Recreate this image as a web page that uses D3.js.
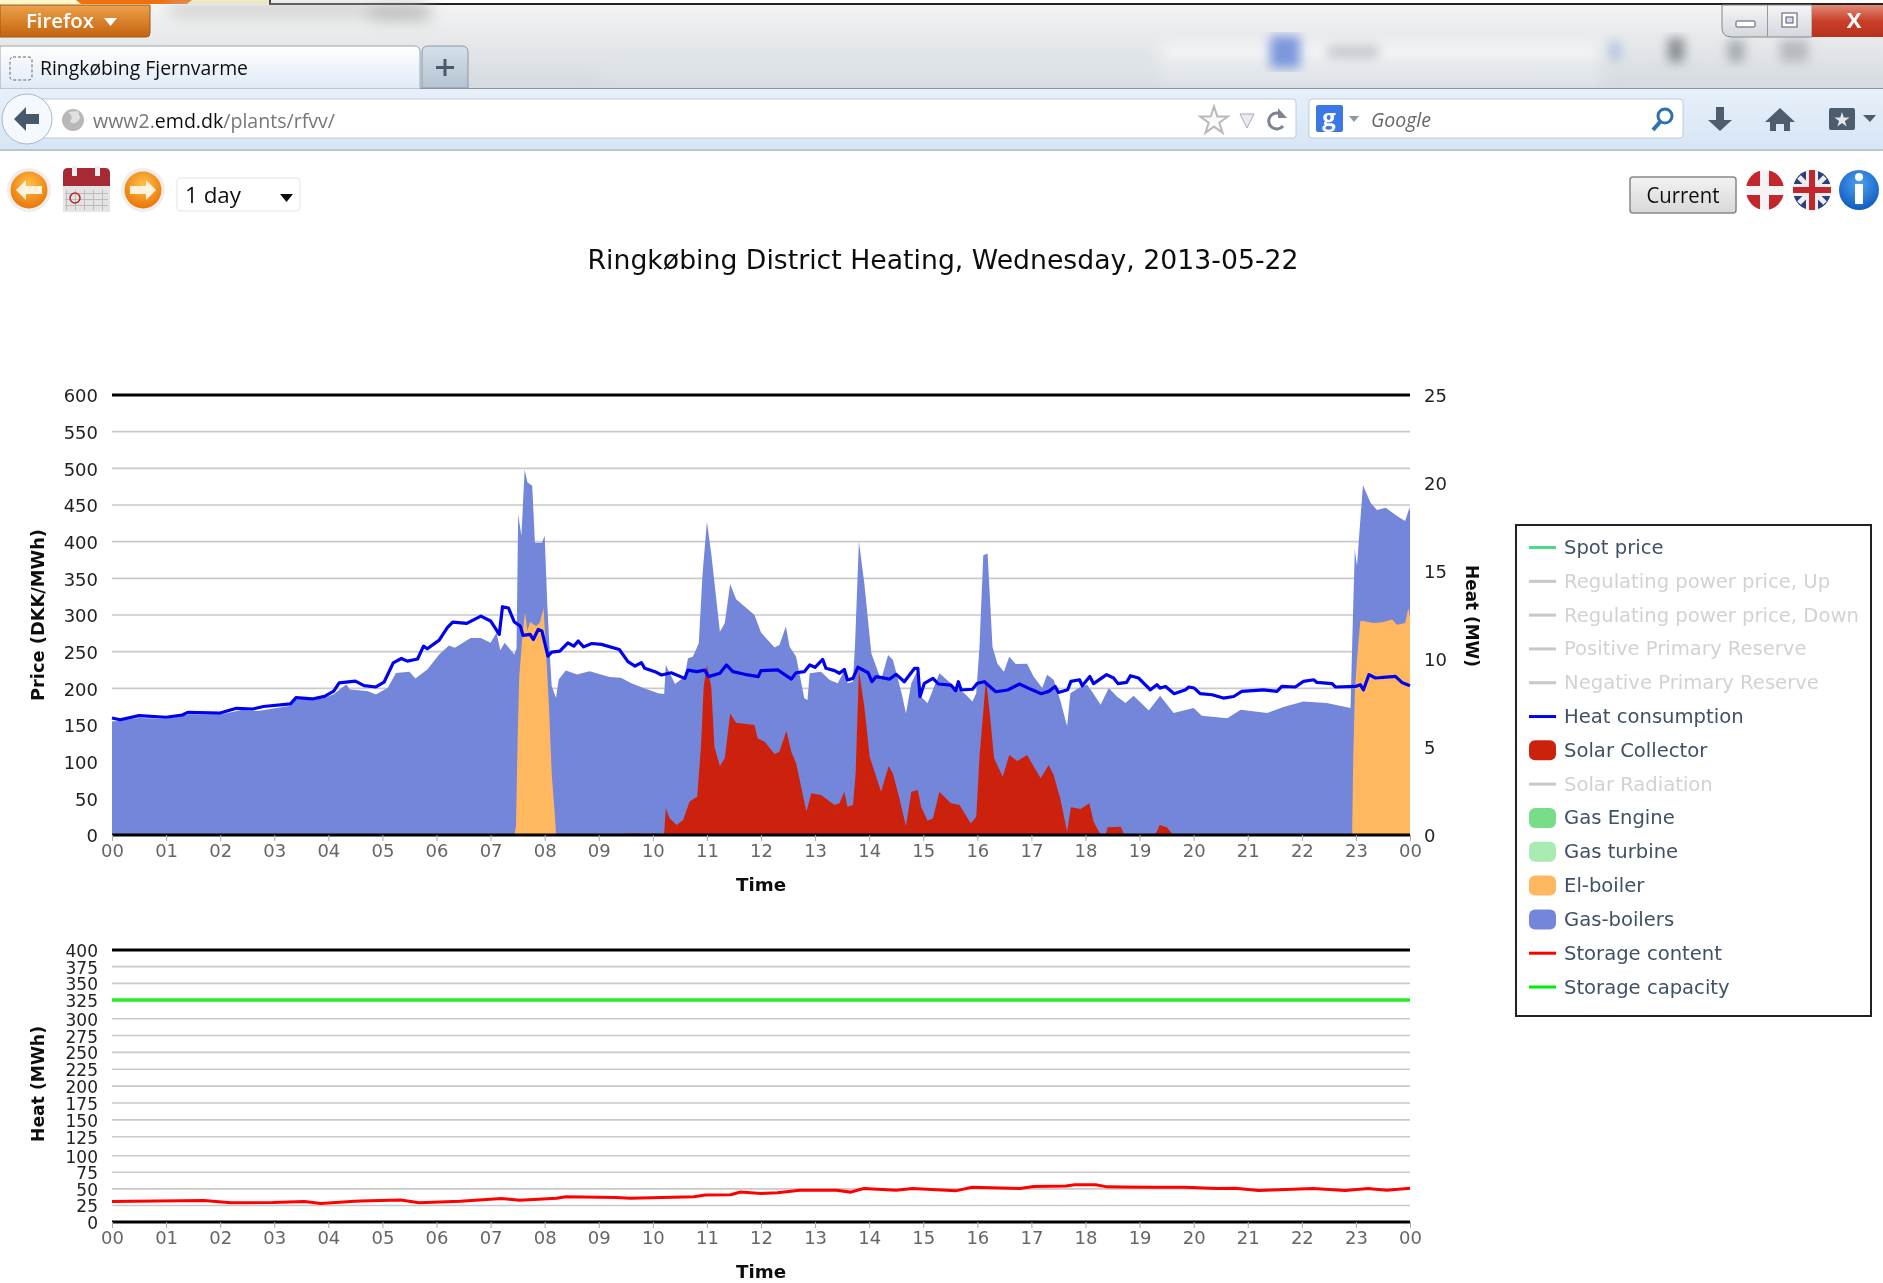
<!DOCTYPE html>
<html>
<head>
<meta charset="utf-8">
<title>Ringkøbing Fjernvarme</title>
<script src="https://cdn.jsdelivr.net/npm/d3@7"></script>
<style>
html,body{margin:0;padding:0;background:#fff;overflow:hidden}
svg{display:block}
text{font-family:"Open Sans","DejaVu Sans",sans-serif}
#chart text{font-family:"DejaVu Sans",sans-serif}
</style>
</head>
<body>
<svg id="page" width="1883" height="1283" viewBox="0 0 1883 1283"></svg>
<script>
// ---------- data: [hour of day, value] ----------
const hourLabels = ["00","01","02","03","04","05","06","07","08","09","10","11","12","13","14","15","16","17","18","19","20","21","22","23","00"];
const priceTicks = [0,50,100,150,200,250,300,350,400,450,500,550,600];
const heatMwTicks = [0,5,10,15,20,25];
const storageTicks = [0,25,50,75,100,125,150,175,200,225,250,275,300,325,350,375,400];

const gasBoilersTop = [[0,6.45],[0.5,6.65],[1,6.6],[1.4,6.85],[2,6.85],[2.4,7.1],[2.7,7.05],[3.3,7.35],[3.4,7.7],[3.9,7.75],[4.1,8.0],[4.33,8.55],[4.4,8.26],[4.73,8.17],[4.88,7.98],[5.1,8.36],[5.25,9.21],[5.5,9.27],[5.61,8.89],[5.83,9.4],[6.05,10.26],[6.23,10.77],[6.34,10.64],[6.63,11.2],[6.82,11.2],[7.0,10.92],[7.11,11.49],[7.18,10.5],[7.26,10.92],[7.44,10.26],[7.48,10.6],[7.51,18.2],[7.57,17],[7.63,20.76],[7.68,20.04],[7.77,19.85],[7.82,16.6],[7.95,16.6],[8,17],[8.05,13],[8.1,10],[8.13,8.45],[8.21,7.79],[8.26,8.83],[8.39,9.34],[8.6,9.12],[8.83,9.31],[9.2,8.98],[9.41,8.93],[9.6,8.62],[9.85,8.33],[10.1,8.05],[10.21,8.01],[10.24,9.66],[10.41,8.58],[10.59,9.0],[10.65,10.04],[10.74,10.13],[10.85,10.89],[10.92,14.87],[11.0,17.8],[11.08,16.0],[11.24,11.55],[11.33,12.03],[11.43,14.26],[11.54,13.39],[11.88,12.5],[12.0,11.5],[12.25,10.66],[12.34,10.8],[12.46,11.84],[12.53,10.7],[12.65,10.13],[12.8,7.77],[12.86,7.67],[12.9,9.19],[13.11,9.28],[13.27,8.8],[13.42,8.62],[13.56,9.47],[13.6,8.62],[13.7,8.71],[13.74,10.89],[13.81,16.67],[13.91,14.3],[14.04,10.32],[14.22,8.8],[14.35,10.23],[14.44,9.94],[14.6,8.05],[14.68,6.91],[14.78,8.62],[14.9,9.38],[14.96,7.86],[15.08,7.48],[15.3,9.19],[15.58,8.43],[15.76,8.05],[15.91,7.58],[15.98,8.05],[16.04,10.7],[16.11,15.9],[16.19,16],[16.28,10.7],[16.37,9.75],[16.49,9.28],[16.59,10.13],[16.71,9.72],[16.92,9.73],[17.04,9.01],[17.2,8.35],[17.29,9.1],[17.41,8.82],[17.54,7.59],[17.66,6.17],[17.72,8.06],[17.87,8.35],[18.03,8.54],[18.12,8.16],[18.28,7.4],[18.43,8.35],[18.58,7.87],[18.74,7.5],[18.89,7.91],[19.17,7.08],[19.38,7.91],[19.63,6.93],[20.0,7.21],[20.15,6.77],[20.62,6.64],[20.87,7.12],[21.36,6.93],[21.66,7.27],[22.03,7.59],[22.46,7.5],[22.9,7.21],[22.94,11.86],[22.98,16.22],[23.02,15.28],[23.06,17],[23.13,19.87],[23.27,18.88],[23.39,18.46],[23.55,18.6],[23.76,18.12],[23.91,17.84],[23.99,18.6],[24,18.4]];

const elBoilerTop = [[7.44,0],[7.47,0.5],[7.5,5.5],[7.53,9],[7.58,11],[7.62,12.2],[7.64,12.63],[7.68,11.6],[7.73,12.1],[7.84,11.87],[7.91,12.06],[7.98,12.9],[8.02,10.73],[8.08,7.3],[8.13,3.5],[8.19,1.05],[8.21,0]];
const elBoilerLateTop = [[22.93,0],[22.95,4.3],[22.98,8.06],[23.02,10],[23.08,12.14],[23.11,12.18],[23.33,12.05],[23.51,12.1],[23.67,12.24],[23.76,11.95],[23.91,12.05],[23.97,12.9],[24,12.4],[24,0]];

const solarCollector = [[9.4,0],[9.5,0.08],[9.7,0.1],[9.85,0.05],[10.0,0.08],[10.2,0.05],[10.21,0.1],[10.24,1.5],[10.31,0.95],[10.44,0.57],[10.56,0.85],[10.68,1.9],[10.82,2.18],[10.89,5],[10.94,8.43],[11.0,9.66],[11.08,8.43],[11.14,5],[11.24,3.92],[11.33,4.36],[11.43,6.91],[11.54,6.38],[11.88,6.25],[11.94,5.49],[12.07,5.3],[12.25,4.6],[12.34,4.73],[12.47,5.93],[12.56,4.73],[12.65,4.07],[12.84,1.33],[12.93,2.37],[13.11,2.27],[13.36,1.7],[13.45,1.8],[13.54,2.46],[13.6,1.61],[13.7,1.7],[13.75,3.5],[13.81,9.38],[13.91,7.3],[14.01,4.45],[14.22,2.46],[14.36,3.92],[14.44,3.5],[14.56,2.08],[14.68,0.51],[14.78,2.46],[14.9,2.56],[14.96,1.61],[15.08,0.81],[15.18,0.95],[15.3,2.46],[15.51,1.8],[15.67,1.7],[15.88,0.66],[15.98,1.04],[16.04,4.45],[16.16,8.86],[16.23,6.91],[16.31,4.36],[16.47,3.31],[16.59,4.55],[16.74,4.2],[16.92,4.55],[17.17,3.23],[17.32,3.98],[17.41,3.42],[17.54,1.99],[17.66,0.19],[17.73,1.57],[17.91,1.48],[18.07,1.8],[18.15,0.76],[18.28,0],[18.37,0],[18.41,0.44],[18.65,0.47],[18.72,0],[19.29,0],[19.37,0.57],[19.51,0.42],[19.62,0]];

const heatConsumption = [[0,6.65],[0.15,6.55],[0.5,6.78],[1.0,6.69],[1.3,6.82],[1.4,6.97],[2,6.93],[2.3,7.2],[2.6,7.16],[2.8,7.3],[3.3,7.45],[3.4,7.8],[3.7,7.73],[3.93,7.88],[4.1,8.17],[4.2,8.64],[4.5,8.74],[4.66,8.49],[4.88,8.41],[5.03,8.68],[5.2,9.78],[5.35,10.03],[5.46,9.88],[5.65,10.0],[5.76,10.73],[5.83,10.58],[6.05,11.07],[6.2,11.78],[6.3,12.1],[6.56,12.02],[6.82,12.44],[7.0,12.16],[7.16,11.4],[7.22,12.97],[7.33,12.9],[7.44,12.1],[7.55,11.87],[7.6,11.34],[7.73,11.4],[7.79,11.11],[7.88,11.68],[7.95,11.59],[8.06,10.16],[8.13,10.39],[8.28,10.45],[8.43,10.92],[8.54,10.73],[8.62,11.02],[8.72,10.69],[8.87,10.88],[9.05,10.83],[9.38,10.54],[9.54,9.85],[9.67,9.6],[9.79,9.79],[9.85,9.47],[10.04,9.28],[10.16,9.09],[10.34,9.22],[10.59,8.9],[10.65,9.37],[10.81,9.28],[10.96,9.37],[11.03,9.0],[11.24,9.19],[11.36,9.66],[11.48,9.28],[11.7,9.13],[11.95,9.0],[12.0,9.34],[12.31,9.38],[12.56,8.86],[12.65,9.22],[12.8,9.28],[12.9,9.66],[13.0,9.53],[13.14,9.98],[13.2,9.47],[13.36,9.34],[13.45,9.19],[13.54,9.41],[13.6,8.81],[13.7,8.9],[13.79,9.53],[13.98,9.22],[14.05,8.71],[14.13,9.0],[14.38,8.86],[14.5,9.13],[14.65,8.71],[14.84,9.47],[14.9,9.47],[14.94,7.86],[15.02,8.62],[15.18,8.9],[15.28,8.58],[15.51,8.52],[15.6,8.2],[15.65,8.71],[15.7,8.24],[15.91,8.28],[16.0,8.62],[16.13,8.71],[16.34,8.14],[16.56,8.24],[16.78,8.58],[16.98,8.29],[17.18,8.03],[17.32,8.16],[17.44,8.44],[17.5,8.1],[17.67,8.25],[17.73,8.73],[17.89,8.82],[17.94,8.48],[18.08,9.01],[18.15,8.6],[18.39,9.11],[18.52,8.92],[18.6,8.6],[18.76,8.67],[18.83,9.05],[18.98,8.92],[19.2,8.25],[19.32,8.54],[19.38,8.35],[19.48,8.44],[19.64,8.03],[19.85,8.25],[19.91,8.41],[20.01,8.35],[20.12,8.03],[20.34,7.97],[20.55,7.78],[20.74,7.87],[20.89,8.16],[21.29,8.25],[21.54,8.16],[21.63,8.44],[21.88,8.41],[22.03,8.73],[22.22,8.82],[22.28,8.67],[22.56,8.6],[22.62,8.41],[22.99,8.44],[23.08,8.54],[23.14,8.25],[23.24,9.11],[23.36,8.92],[23.73,9.01],[23.85,8.67],[24,8.48]];

const storageContent = [[0,30.9],[1.7,32.4],[2.2,28.9],[2.97,29.4],[3.56,30.9],[3.86,28],[4.49,31.4],[5.34,33.3],[5.68,28.9],[6.44,31.4],[7.2,35.3],[7.54,32.8],[8.22,35.8],[8.39,38.2],[9.32,36.8],[9.58,35.8],[10.76,38.2],[10.97,40.7],[11.44,41.2],[11.62,45.1],[12,43.1],[12.3,44.1],[12.72,48],[13.4,48],[13.65,45.1],[13.9,50.5],[14.5,48],[14.8,50.5],[15.6,47],[15.9,52.5],[16.79,50.5],[17.04,53.4],[17.64,54.4],[17.8,56],[18.19,56],[18.4,53],[19.25,52.5],[19.84,52.5],[20.43,50.5],[20.77,51],[21.2,47.5],[22.21,50.5],[22.8,47.5],[23.23,50.5],[23.57,48],[24,51]];
const storageCapacity = [[0,325],[24,325]];

const legendNames = ["Spot price","Regulating power price, Up","Regulating power price, Down","Positive Primary Reserve","Negative Primary Reserve","Heat consumption","Solar Collector","Solar Radiation","Gas Engine","Gas turbine","El-boiler","Gas-boilers","Storage content","Storage capacity"];
const legendKinds = ["line","line","line","line","line","line","area","line","area","area","area","area","line","line"];
const legendActive = [true,false,false,false,false,true,true,false,true,true,true,true,true,true];
const legendColors = ["#4fd885","#c8c8c8","#c8c8c8","#c8c8c8","#c8c8c8","#0000ee","#cc2211","#c8c8c8","#77dd88","#a8ecb4","#ffb860","#7386d9","#ff0000","#00ee00"];

// ---------- layout and scales ----------
const svg = d3.select("#page");
const X0 = 112, X1 = 1410;
const x = d3.scaleLinear().domain([0,24]).range([X0,X1]);
const yPrice = d3.scaleLinear().domain([0,600]).range([835,395]);
const yHeat = d3.scaleLinear().domain([0,25]).range([835,395]);
const yStore = d3.scaleLinear().domain([0,100,125,300,325,400]).range([1222,1155.7,1136.7,1018.7,1000,950]);

const C = {grid:"#c9c9c9", tickDark:"#222", tickGrey:"#666", gas:"#7386d9", el:"#ffb860", solar:"#cc2211", heat:"#0000ee", store:"#ff0000", cap:"#22ee22"};

// ---------- browser chrome ----------
const defs = svg.append("defs");
function grad(id, stops, horizontal){
  const g = defs.append("linearGradient").attr("id",id).attr("x1",0).attr("y1",0).attr("x2",horizontal?1:0).attr("y2",horizontal?0:1);
  stops.forEach(s=>g.append("stop").attr("offset",s[0]).attr("stop-color",s[1]));
}
grad("gTop",[[0,"#f3f3f3"],[0.45,"#e6e8ea"],[1,"#d4dae0"]]);
grad("gFox",[[0,"#eda24a"],[1,"#c4620f"]]);
grad("gTab",[[0,"#ffffff"],[1,"#dfeaf7"]]);
grad("gPlus",[[0,"#d5e0ea"],[1,"#b5c3d2"]]);
grad("gBar",[[0,"#e7f0fa"],[1,"#d6e5f5"]]);
grad("gClose",[[0,"#e08a75"],[0.5,"#c9402b"],[1,"#b9301c"]]);
grad("gWin",[[0,"#f4f5f6"],[1,"#d3d8dd"]]);
grad("gBtn",[[0,"#f2f2f2"],[1,"#d8d8d8"]]);
const orangeG = defs.append("radialGradient").attr("id","gOrange").attr("cx",0.5).attr("cy",0.35).attr("r",0.7);
orangeG.append("stop").attr("offset",0).attr("stop-color","#ffc04a");
orangeG.append("stop").attr("offset",1).attr("stop-color","#e96f00");
const blueG = defs.append("radialGradient").attr("id","gBlue").attr("cx",0.5).attr("cy",0.35).attr("r",0.7);
blueG.append("stop").attr("offset",0).attr("stop-color","#4da3ef");
blueG.append("stop").attr("offset",1).attr("stop-color","#0b56bd");
defs.append("filter").attr("id","blur8").append("feGaussianBlur").attr("stdDeviation",8);
defs.append("filter").attr("id","blur3").append("feGaussianBlur").attr("stdDeviation",5.5);
defs.append("filter").attr("id","soft").append("feGaussianBlur").attr("stdDeviation",0.45);

const chrome = svg.append("g").attr("filter","url(#soft)");
function rect(p,a,b,c,d,fill,extra){const r=p.append("rect").attr("x",a).attr("y",b).attr("width",c).attr("height",d).attr("fill",fill);if(extra)Object.entries(extra).forEach(([k,v])=>r.attr(k,v));return r;}
function txt(p,a,b,s,size,fill,extra){const t=p.append("text").attr("x",a).attr("y",b).attr("font-size",size).attr("fill",fill).text(s);if(extra)Object.entries(extra).forEach(([k,v])=>t.attr(k,v));return t;}

// top strip
rect(chrome,0,0,1883,5,"#fff");
rect(chrome,0,0,270,4,"#fff7c8");
chrome.append("path").attr("d","M76 0H192L187 4H81Z").attr("fill","#f07010");
rect(chrome,269,0,2,5,"#111");
rect(chrome,270,3,1613,2,"#222");
rect(chrome,0,5,1883,84,"url(#gTop)");
// blurred window behind the glass
const blurred = chrome.append("g").attr("filter","url(#blur8)");
rect(blurred,1160,44,440,36,"#f6f7f8");
rect(blurred,170,5,250,10,"#c4c4c4");
rect(blurred,370,8,60,10,"#a5a5a5");
rect(blurred,600,60,1000,16,"#dfe4e8");
const blurred2 = chrome.append("g").attr("filter","url(#blur3)");
rect(blurred2,1270,36,30,32,"#7c97dc");
rect(blurred2,1328,46,50,12,"#c2c6ca");
rect(blurred2,1610,42,10,18,"#a9bedb");
rect(blurred2,1668,38,16,24,"#888e94");
rect(blurred2,1728,40,16,22,"#a5aaaf");
rect(blurred2,1780,40,28,22,"#b5b9bd");
// Firefox button
chrome.append("path").attr("d","M0 5H150V33Q150 37 146 37H0Z").attr("fill","url(#gFox)").attr("stroke","#9a5a1c");
txt(chrome,26,28,"Firefox",19,"#fff",{"font-weight":"600",textLength:68,lengthAdjust:"spacingAndGlyphs"});
chrome.append("path").attr("d","M104 18H117L110.500 26Z").attr("fill","#fff");
// window buttons
chrome.append("path").attr("d","M1722 5V28Q1722 37 1732 37H1812V5Z").attr("fill","url(#gWin)").attr("stroke","#888");
rect(chrome,1812,5,71,32,"url(#gClose)");
rect(chrome,1767,5,1,32,"#999");
rect(chrome,1736,21,19,6,"#fff",{stroke:"#556",rx:1});
rect(chrome,1782,13,15,14,"#fff",{stroke:"#556"});
rect(chrome,1786,17,7,6,"#dde",{stroke:"#556"});
txt(chrome,1854,28,"X",22,"#fff",{"text-anchor":"middle","font-weight":"700"});
// tab strip
rect(chrome,0,88,1883,1,"#8c9299");
chrome.append("path").attr("d","M0 46H414Q420 46 420 52V89H0Z").attr("fill","url(#gTab)").attr("stroke","#9aa4ae");
chrome.append("path").attr("d","M422 52Q422 46 428 46H462Q468 46 468 52V88H422Z").attr("fill","url(#gPlus)").attr("stroke","#8b97a4");
rect(chrome,436,66,18,3,"#4a5a6b");
rect(chrome,443.500,59,3,17,"#4a5a6b");
rect(chrome,10,57,22,23,"none",{stroke:"#666","stroke-dasharray":"3 2",rx:3});
txt(chrome,40,75,"Ringkøbing Fjernvarme",20,"#111",{textLength:208,lengthAdjust:"spacingAndGlyphs"});
// navigation bar
rect(chrome,0,89,1883,61,"url(#gBar)");
rect(chrome,0,149,1883,2,"#b9c6d4");
rect(chrome,40,99,1256,39,"#fff",{stroke:"#bccbdb",rx:3});
rect(chrome,1309,99,374,39,"#fff",{stroke:"#bccbdb",rx:3});
chrome.append("circle").attr("cx",27).attr("cy",119).attr("r",25).attr("fill","#f5f9fd").attr("stroke","#a8b8c8");
chrome.append("path").attr("d","M14 119L26 107V114H39V124H26V131Z").attr("fill","#46586b");
chrome.append("circle").attr("cx",73).attr("cy",120).attr("r",11).attr("fill","#b8b8b8");
chrome.append("path").attr("d","M68 112Q74 116 70 122Q76 126 80 118L78 111Z").attr("fill","#e0e0e0");
const url = txt(chrome,93,128,"",20,"#777",{textLength:242,lengthAdjust:"spacingAndGlyphs"});
url.append("tspan").text("www2.");
url.append("tspan").attr("fill","#111").text("emd.dk");
url.append("tspan").text("/plants/rfvv/");
chrome.append("path").attr("d",d3.symbol().type(d3.symbolStar).size(240)()).attr("transform","translate(1214,121)").attr("fill","#fafafa").attr("stroke","#b9b9b9").attr("stroke-width",2);
chrome.append("path").attr("d","M1240 114H1254L1247 128Z").attr("fill","#e9edf0").attr("stroke","#aab");
chrome.append("path").attr("d","M1282 115A8 8 0 1 0 1283 126").attr("fill","none").attr("stroke","#7a8590").attr("stroke-width",3);
chrome.append("path").attr("d","M1278 108V118H1287Z").attr("fill","#7a8590");
rect(chrome,1316,105,27,27,"#3a78e6",{rx:2});
txt(chrome,1329,126,"g",24,"#fff",{"text-anchor":"middle","font-weight":"700"});
chrome.append("path").attr("d","M1349 116H1359L1354 122Z").attr("fill","#8899aa");
txt(chrome,1371,127,"Google",20,"#666",{"font-style":"italic",textLength:60,lengthAdjust:"spacingAndGlyphs"});
chrome.append("circle").attr("cx",1665).attr("cy",116).attr("r",7).attr("fill","none").attr("stroke","#2f6fb5").attr("stroke-width",3);
chrome.append("path").attr("d","M1660 122L1653 130").attr("stroke","#2f6fb5").attr("stroke-width",4);
chrome.append("path").attr("d","M1716 107H1724V120H1732L1720 131L1708 120H1716Z").attr("fill","#4e5d6c");
chrome.append("path").attr("d","M1780 108L1795 122H1790V131H1784V124H1776V131H1770V122H1765Z").attr("fill","#4e5d6c");
rect(chrome,1829,108,26,22,"#4e5d6c",{rx:2});
chrome.append("path").attr("d",d3.symbol().type(d3.symbolStar).size(70)()).attr("transform","translate(1842,120)").attr("fill","#e5e9ee");
chrome.append("path").attr("d","M1863 115H1876L1870 122Z").attr("fill","#4e5d6c");

// page controls
function roundArrow(cx,dir){
  chrome.append("circle").attr("cx",cx).attr("cy",190).attr("r",22).attr("fill","#eee");
  chrome.append("circle").attr("cx",cx).attr("cy",190).attr("r",18.5).attr("fill","url(#gOrange)");
  chrome.append("path").attr("transform",`translate(${cx},190) scale(${dir},1)`).attr("d","M-13 0L-3 -10V-4H13V4H-3V10Z").attr("fill","#fff3dc");
}
roundArrow(29,1); roundArrow(143,-1);
rect(chrome,63,176,47,36,"#e4e4e4");
chrome.append("path").attr("d","M63 173Q63 168 68 168H105Q110 168 110 173V186H63Z").attr("fill","#a52a35");
rect(chrome,72,166,5,10,"#eee"); rect(chrome,95,166,5,10,"#eee");
d3.range(5).forEach(i=>rect(chrome,66+i*9,190,1,20,"#bbb"));
d3.range(3).forEach(i=>rect(chrome,65,193+i*6,43,1,"#bbb"));
chrome.append("circle").attr("cx",75).attr("cy",198).attr("r",5).attr("fill","none").attr("stroke","#b22").attr("stroke-width",1.5);
rect(chrome,177,178,123,33,"#fff",{stroke:"#dfe3e8",rx:3});
txt(chrome,185,203,"1 day",21,"#111",{textLength:56,lengthAdjust:"spacingAndGlyphs"});
chrome.append("path").attr("d","M280 194H293L286.500 202Z").attr("fill","#111");
rect(chrome,1630,177,106,36,"url(#gBtn)",{stroke:"#888","stroke-width":1.5,rx:3});
txt(chrome,1683,203,"Current",21,"#111",{"text-anchor":"middle",textLength:73,lengthAdjust:"spacingAndGlyphs"});
// flags and info
chrome.append("ellipse").attr("cx",1765).attr("cy",190).attr("rx",19).attr("ry",20).attr("fill","#c4262e");
rect(chrome,1760,170,9,40,"#f4f4f4"); rect(chrome,1746,186,38,9,"#f4f4f4");
chrome.append("ellipse").attr("cx",1812).attr("cy",190).attr("rx",19).attr("ry",20).attr("fill","#2a3f7e");
chrome.append("path").attr("d","M1799 177L1825 203M1825 177L1799 203").attr("stroke","#eee").attr("stroke-width",5);
rect(chrome,1806,170,12,40,"#eee"); rect(chrome,1793,184,38,12,"#eee");
rect(chrome,1809,170,6,40,"#c4262e"); rect(chrome,1793,187,38,6,"#c4262e");
chrome.append("circle").attr("cx",1859).attr("cy",190).attr("r",20).attr("fill","url(#gBlue)");
chrome.append("circle").attr("cx",1859).attr("cy",177).attr("r",4).attr("fill","#fff");
rect(chrome,1855,184,8,20,"#fff");

// ---------- chart ----------
const chart = svg.append("g").attr("id","chart").attr("filter","url(#soft)");
txt(chart,943,269,"Ringkøbing District Heating, Wednesday, 2013-05-22",26,"#111",{"text-anchor":"middle",textLength:711,lengthAdjust:"spacingAndGlyphs"});

const area = yScale => d3.area().x(d=>x(d[0])).y0(yScale(0)).y1(d=>yScale(d[1]));
const line = yScale => d3.line().x(d=>x(d[0])).y(d=>yScale(d[1]));

function drawFrame(yScale,ticks,isMajor){
  chart.append("g").selectAll("line").data(ticks.filter(t=>!isMajor(t))).join("line")
    .attr("x1",X0).attr("x2",X1).attr("y1",d=>yScale(d)).attr("y2",d=>yScale(d))
    .attr("stroke",C.grid).attr("stroke-width",1.6);
}
function drawHourAxis(yPos){
  const ax = d3.axisBottom(x).tickValues(d3.range(25)).tickFormat(i=>hourLabels[i]).tickSize(6).tickSizeOuter(0);
  const g = chart.append("g").attr("transform",`translate(0,${yPos})`).call(ax);
  g.select(".domain").remove();
  g.selectAll(".tick line").attr("stroke","#aaa");
  g.selectAll(".tick text").attr("font-size",18).attr("fill",C.tickGrey).attr("dy",0).attr("y",22).attr("font-family",'"DejaVu Sans",sans-serif');
}
function drawValueAxis(scale,ticks,xPos,orient,size,fill){
  const ax = orient(scale).tickValues(ticks).tickSize(0).tickPadding(0);
  const g = chart.append("g").attr("transform",`translate(${xPos},1)`).call(ax);
  g.select(".domain").remove();
  g.selectAll(".tick text").attr("font-size",size).attr("fill",fill).attr("font-family",'"DejaVu Sans",sans-serif');
}
function heavy(yPos){ chart.append("line").attr("x1",X0).attr("x2",X1).attr("y1",yPos).attr("y2",yPos).attr("stroke","#000").attr("stroke-width",3.2); }

// upper panel
drawFrame(yPrice,priceTicks,t=>t===0||t===600);
chart.append("path").datum(gasBoilersTop).attr("d",area(yHeat)).attr("fill",C.gas);
chart.append("path").datum(elBoilerTop).attr("d",area(yHeat)).attr("fill",C.el);
chart.append("path").datum(elBoilerLateTop).attr("d",area(yHeat)).attr("fill",C.el);
chart.append("path").datum(solarCollector).attr("d",area(yHeat)).attr("fill",C.solar);
chart.append("path").datum(heatConsumption).attr("d",line(yHeat)).attr("fill","none").attr("stroke",C.heat).attr("stroke-width",3.2).attr("stroke-linejoin","round");
heavy(yPrice(600)); heavy(yPrice(0));
drawHourAxis(835);
drawValueAxis(yPrice,priceTicks,98,d3.axisLeft,18,C.tickDark);
drawValueAxis(yHeat,heatMwTicks,1424,d3.axisRight,18,C.tickDark);
txt(chart,0,0,"Price (DKK/MWh)",17,"#111",{"font-weight":"700","text-anchor":"middle",transform:"translate(44,615) rotate(-90)",textLength:172,lengthAdjust:"spacingAndGlyphs"});
txt(chart,0,0,"Heat (MW)",17,"#111",{"font-weight":"700","text-anchor":"middle",transform:"translate(1466,616) rotate(90)",textLength:102,lengthAdjust:"spacingAndGlyphs"});
txt(chart,761,891,"Time",18,"#111",{"font-weight":"700","text-anchor":"middle",textLength:50,lengthAdjust:"spacingAndGlyphs"});

// lower panel
drawFrame(yStore,storageTicks,t=>t===0||t===400||t===325);
chart.append("path").datum(storageCapacity).attr("d",line(yStore)).attr("fill","none").attr("stroke",C.cap).attr("stroke-width",3.5);
chart.append("path").datum(storageContent).attr("d",line(yStore)).attr("fill","none").attr("stroke",C.store).attr("stroke-width",3);
heavy(yStore(400)); heavy(yStore(0));
drawHourAxis(1222);
drawValueAxis(yStore,storageTicks,98,d3.axisLeft,17,C.tickDark);
txt(chart,0,0,"Heat (MWh)",17,"#111",{"font-weight":"700","text-anchor":"middle",transform:"translate(44,1084) rotate(-90)",textLength:116,lengthAdjust:"spacingAndGlyphs"});
txt(chart,761,1278,"Time",18,"#111",{"font-weight":"700","text-anchor":"middle",textLength:50,lengthAdjust:"spacingAndGlyphs"});

// legend
const legend = chart.append("g");
rect(legend,1516,525,355,491,"#fff",{stroke:"#222","stroke-width":2});
const legendY = d3.scalePoint().domain(legendNames).range([547.5,987]);
const rows = legend.selectAll("g").data(legendNames).join("g").attr("transform",d=>`translate(0,${legendY(d)})`);
rows.each(function(d,i){
  const g = d3.select(this);
  if(legendKinds[i]==="line"){
    rect(g,1529,-1.5,27,3,legendColors[i]);
  }else{
    rect(g,1529,-10,27,20,legendColors[i],{rx:6});
  }
  txt(g,1564,6.5,d,19.6,legendActive[i]?"#3f5166":"#d2d2d2");
});
</script>
</body>
</html>
